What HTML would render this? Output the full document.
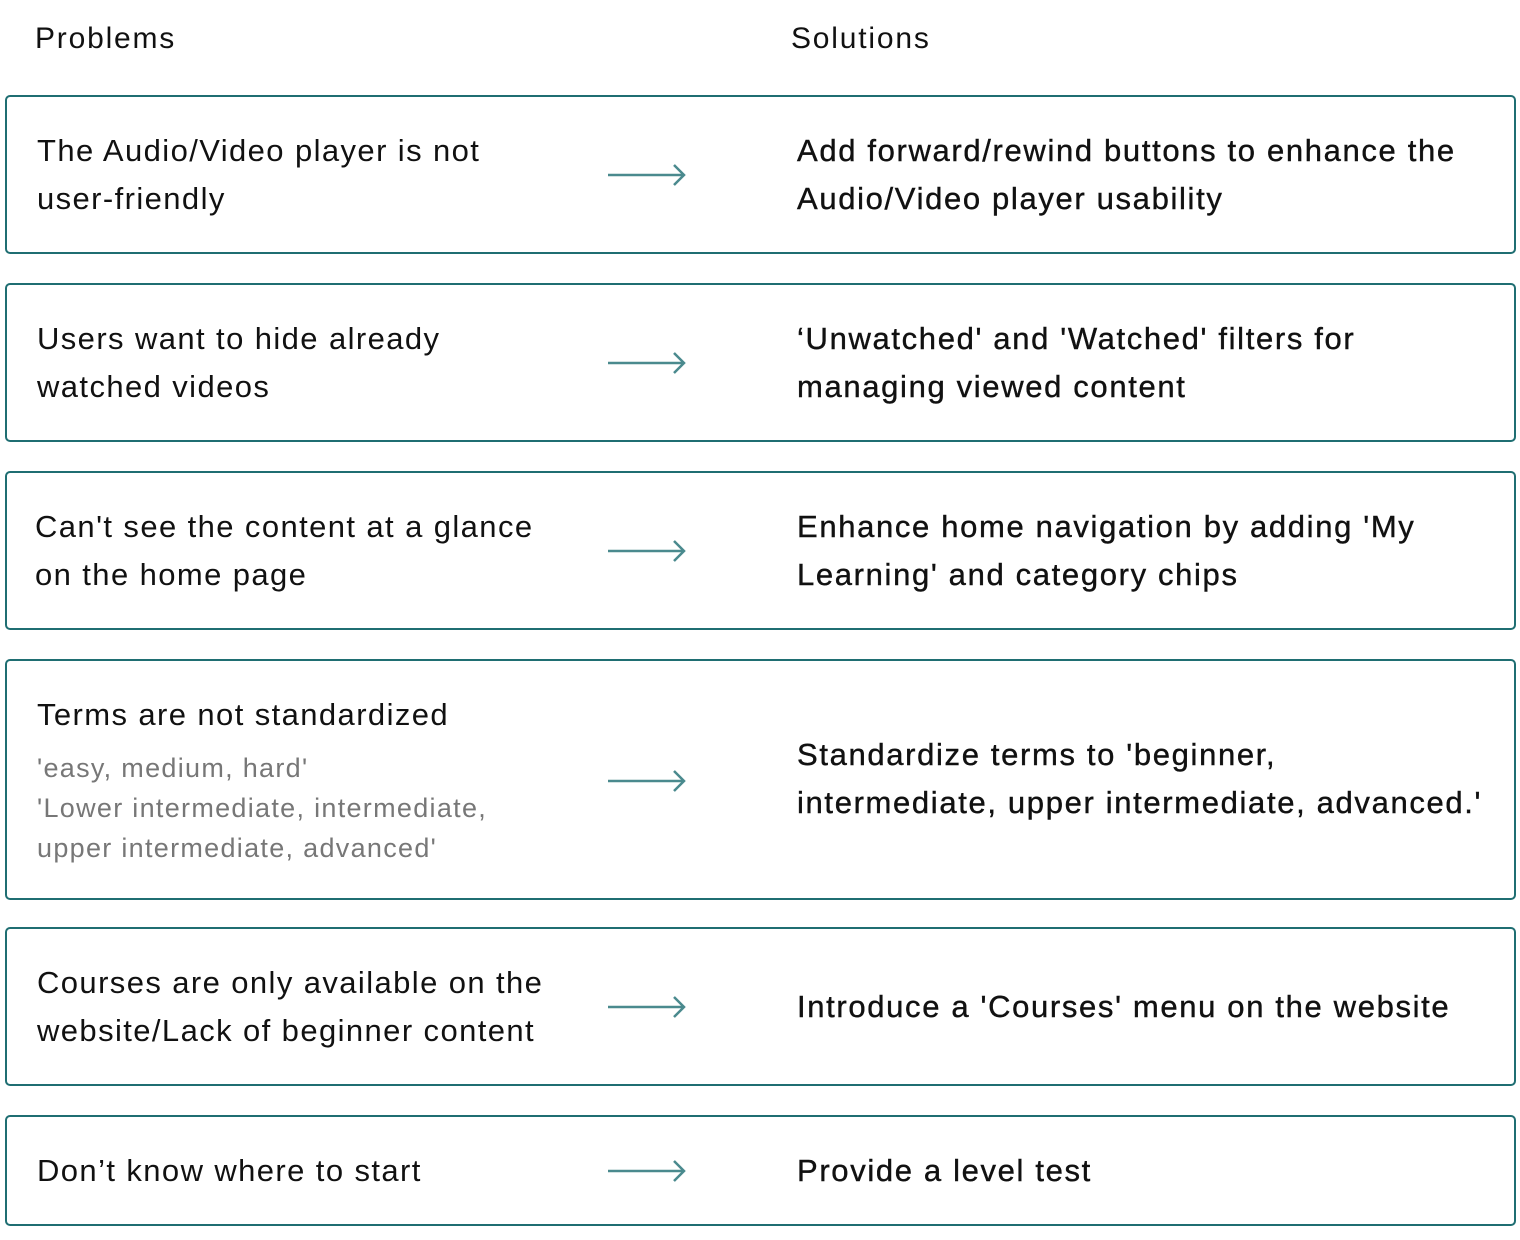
<!DOCTYPE html>
<html><head><meta charset="utf-8"><style>
body{margin:0;width:1520px;height:1240px;background:#fff;font-family:"Liberation Sans",sans-serif;color:#111;position:relative;overflow:hidden}
.h{position:absolute;top:22px;font-size:30px;letter-spacing:1.8px}
.box{position:absolute;left:5px;width:1511px;border:2px solid #1f6e72;border-radius:5px;box-sizing:border-box}
.t{position:absolute;font-size:31px;line-height:48px;letter-spacing:1.4px;white-space:nowrap}
.s{-webkit-text-stroke:0.4px #111;letter-spacing:1.65px}
.g{position:absolute;font-size:27px;line-height:40px;color:#777;letter-spacing:1.3px;white-space:nowrap}
svg{position:absolute;left:606px}
</style></head><body>
<div class="h" style="left:35px">Problems</div>
<div class="h" style="left:791px">Solutions</div>

<div class="box" style="top:95px;height:159px"></div>
<div class="t" style="left:37px;top:127px">The Audio/Video player is not<br>user-friendly</div>
<div class="t s" style="left:797px;top:127px">Add forward/rewind buttons to enhance the<br>Audio/Video player usability</div>
<svg style="top:163px" width="82" height="24"><path d="M2 12H78M68 2L78 12L68 22" stroke="#4a8a8e" stroke-width="2.5" fill="none"/></svg>

<div class="box" style="top:283px;height:159px"></div>
<div class="t" style="left:37px;top:315px">Users want to hide already<br>watched videos</div>
<div class="t s" style="left:797px;top:315px">‘Unwatched' and 'Watched' filters for<br>managing viewed content</div>
<svg style="top:351px" width="82" height="24"><path d="M2 12H78M68 2L78 12L68 22" stroke="#4a8a8e" stroke-width="2.5" fill="none"/></svg>

<div class="box" style="top:471px;height:159px"></div>
<div class="t" style="left:35px;top:503px">Can't see the content at a glance<br>on the home page</div>
<div class="t s" style="left:797px;top:503px">Enhance home navigation by adding 'My<br>Learning' and category chips</div>
<svg style="top:539px" width="82" height="24"><path d="M2 12H78M68 2L78 12L68 22" stroke="#4a8a8e" stroke-width="2.5" fill="none"/></svg>

<div class="box" style="top:659px;height:241px"></div>
<div class="t" style="left:37px;top:691px">Terms are not standardized</div>
<div class="g" style="left:37px;top:748px">'easy, medium, hard'<br>'Lower intermediate, intermediate,<br>upper intermediate, advanced'</div>
<div class="t s" style="left:797px;top:731px">Standardize terms to 'beginner,<br>intermediate, upper intermediate, advanced.'</div>
<svg style="top:769px" width="82" height="24"><path d="M2 12H78M68 2L78 12L68 22" stroke="#4a8a8e" stroke-width="2.5" fill="none"/></svg>

<div class="box" style="top:927px;height:159px"></div>
<div class="t" style="left:37px;top:959px">Courses are only available on the<br>website/Lack of beginner content</div>
<div class="t s" style="left:797px;top:983px">Introduce a 'Courses' menu on the website</div>
<svg style="top:995px" width="82" height="24"><path d="M2 12H78M68 2L78 12L68 22" stroke="#4a8a8e" stroke-width="2.5" fill="none"/></svg>

<div class="box" style="top:1115px;height:111px"></div>
<div class="t" style="left:37px;top:1147px">Don’t know where to start</div>
<div class="t s" style="left:797px;top:1147px">Provide a level test</div>
<svg style="top:1159px" width="82" height="24"><path d="M2 12H78M68 2L78 12L68 22" stroke="#4a8a8e" stroke-width="2.5" fill="none"/></svg>
</body></html>
